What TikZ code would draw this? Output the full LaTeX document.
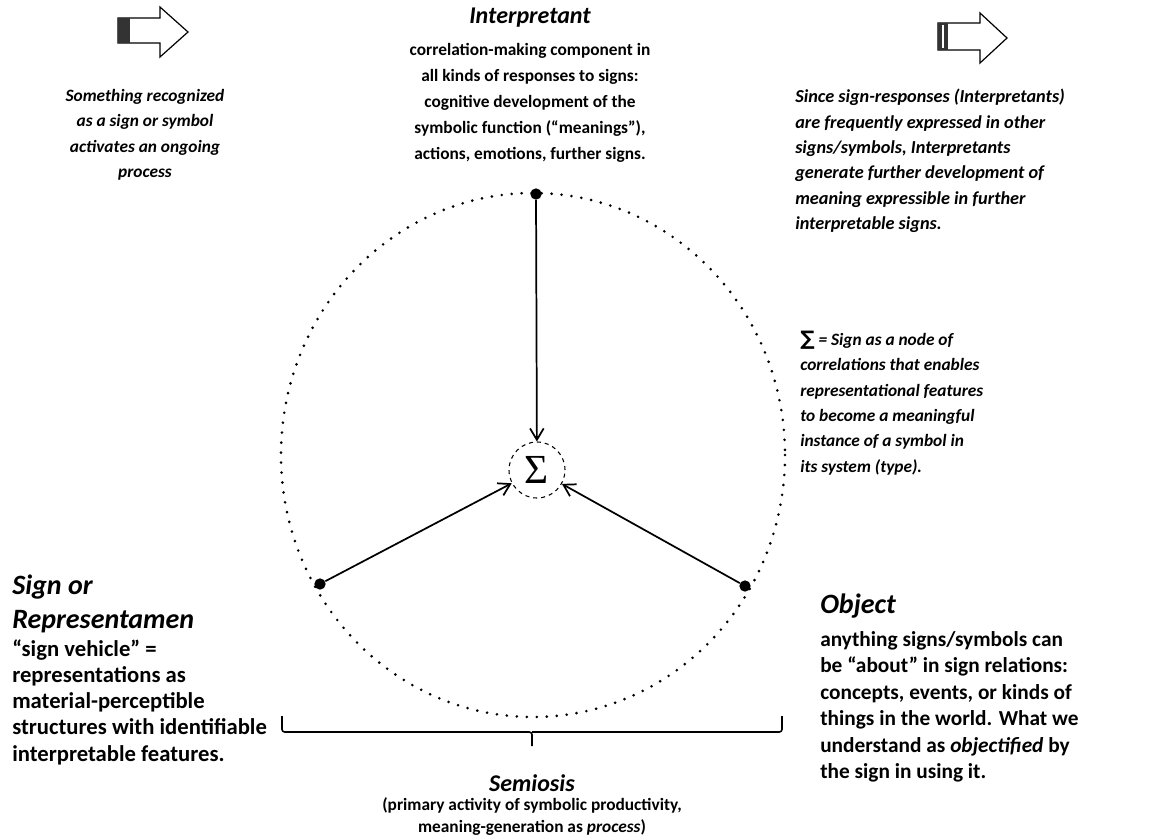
\documentclass[tikz,border=0pt]{standalone}
\usepackage{amsmath}
\usepackage{fontspec}
\setmainfont{Carlito}
\newfontfamily\sigfont{Liberation Serif}
\newfontfamily\symfont{DejaVu Sans}
\usetikzlibrary{arrows.meta,positioning}

\begin{document}
\begin{tikzpicture}[x=0.75pt,y=-0.75pt,
  head/.style={font=\fontsize{18}{22}\selectfont\bfseries\itshape,inner sep=0pt},
  bighead/.style={font=\fontsize{21}{25.5}\selectfont\bfseries\itshape,inner sep=0pt,align=left},
  body/.style={font=\fontsize{13}{19.5}\selectfont\bfseries,inner sep=0pt},
  bigbody/.style={font=\fontsize{17}{19.7}\selectfont\bfseries,inner sep=0pt,align=left},
  note/.style={font=\fontsize{13}{19}\selectfont\bfseries\itshape,inner sep=0pt},
  vdot/.style={circle,fill,inner sep=0pt,minimum size=8.5pt},
  link/.style={line width=1.3pt,-{Straight Barb[length=3mm,width=3.6mm]}}]
\useasboundingbox (0,0) rectangle (1175,836);

% hollow arrows
\draw[line width=0.9pt] (118,18) -- (160,18) -- (160,7) -- (188,32) -- (160,57) -- (160,43) -- (118,43) -- cycle;
\fill[black!80] (118,18) rectangle (130,43);
\draw[line width=0.9pt] (938,23) -- (980,23) -- (980,13) -- (1007,38) -- (980,63) -- (980,50) -- (938,50) -- cycle;
\fill[black!80] (938,23) rectangle (948,50);
\draw[white,line width=1.2pt] (943,25) -- (943,48);

% texts
\node[note,align=center,anchor=north] (trigger) at (145,89) {Something recognized\\as a sign or symbol\\activates an ongoing\\process};
\node[head] (interph) at (530,18) {Interpretant};
\node[body,align=center,anchor=north] (interp) at (530,43) {correlation-making component in\\all kinds of responses to signs:\\cognitive development of the\\symbolic function (“meanings”),\\actions, emotions, further signs.};
\node[note,align=left,anchor=north west,font=\fontsize{13.7}{19}\selectfont\bfseries\itshape] (spread) at (795,89) {Since sign-responses (Interpretants)\\are frequently expressed in other\\signs/symbols, Interpretants\\generate further development of\\meaning expressible in further\\interpretable signs.};
\node[note,align=left,anchor=north west] (signote) at (800,331) {{\symfont\bfseries\upshape\fontsize{15}{15}\selectfont ∑} = Sign as a node of\\correlations that enables\\representational features\\to become a meaningful\\instance of a symbol in\\its system (type).};
\node[bighead,anchor=north west] (signh) at (12,575) {Sign or\\Representamen};
\node[bigbody,anchor=north west] (sign) at (12,639) {“sign vehicle” =\\representations as\\material-perceptible\\structures with identifiable\\interpretable features.};
\node[bighead,anchor=north west] (objh) at (820,594) {Object};
\node[bigbody,anchor=north west,font=\fontsize{16}{19.9}\selectfont\bfseries] (obj) at (820,631) {anything signs/symbols can\\be “about” in sign relations:\\concepts, events, or kinds of\\things in the world. What we\\understand as \textit{objectified} by\\the sign in using it.};
\node[head] (semioh) at (532,783) {Semiosis};
\node[body,align=center,anchor=north,font=\fontsize{13}{16.5}\selectfont\bfseries] (semio) at (532,797) {(primary activity of symbolic productivity,\\meaning-generation as \textit{process})};

% triad
\draw[line width=2.2pt,line cap=round,dash pattern=on 0pt off 7.5pt] (533,455) ellipse [x radius=252,y radius=262];
\node[circle,draw,dashed,line width=0.8pt,minimum size=42pt,inner sep=0pt,font=\sigfont\fontsize{31}{31}\selectfont] (sig) at (537,470) {Σ};
\node[vdot] (itp) at (536,194) {};
\node[vdot] (rep) at (320,584) {};
\node[vdot] (ob) at (745,586) {};
\draw[link] (itp) -- (sig);
\draw[link] (rep) -- (sig);
\draw[link] (ob) -- (sig);

% semiosis bracket
\draw[line width=1.2pt,rounded corners=2pt] (282,716) |- (532,732) -- (532,746);
\draw[line width=1.2pt,rounded corners=2pt] (782,716) |- (532,732);
\end{tikzpicture}
\end{document}
